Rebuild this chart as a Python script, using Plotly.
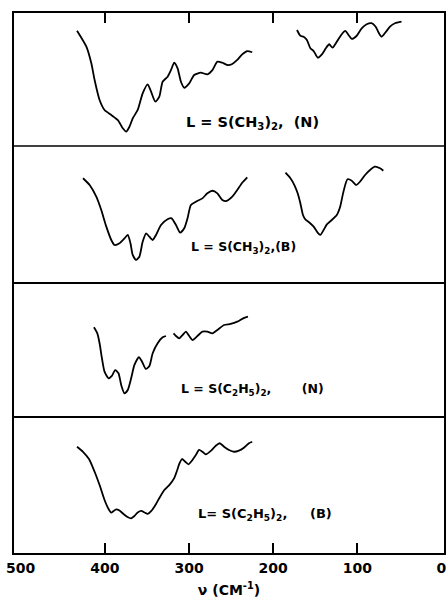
import plotly.graph_objects as go
from plotly.subplots import make_subplots

# Far-infrared spectra, wavenumber (cm^-1) vs. relative transmittance (% of panel height)
# Panel 1: L = S(CH3)2, (N)
p1a_nu = [433.1, 422.0, 416.1, 412.2, 406.3, 400.4, 392.4, 384.6, 378.7, 374.7, 370.8, 366.9,
          361.0, 355.1, 349.1, 345.1, 340.0, 335.3, 331.4, 325.5, 321.5, 317.6, 313.6, 309.6,
          305.7, 299.8, 293.9, 286.0, 278.2, 272.2, 266.3, 260.4, 254.5, 248.6, 242.7, 236.8,
          230.8, 224.9]
p1a_t = [86.7, 74.7, 62.2, 49.6, 34.6, 27.1, 23.3, 19.5, 13.3, 10.8, 14.5, 20.8,
         27.1, 39.6, 46.4, 40.8, 33.3, 37.1, 48.3, 52.1, 57.1, 62.6, 58.4, 48.3,
         43.8, 47.1, 53.4, 55.1, 53.9, 57.1, 63.4, 62.6, 60.9, 61.7, 64.7, 68.9,
         71.4, 70.5]
p1b_nu = [171.7, 167.7, 163.8, 159.9, 155.8, 151.9, 146.9, 142.1, 137.4, 133.4, 129.5, 124.4,
          119.2, 114.4, 110.5, 106.6, 100.7, 94.8, 88.9, 83.0, 78.2, 74.2, 71.1, 66.4,
          61.2, 55.3, 47.5]
p1b_t = [87.2, 82.9, 82.2, 79.7, 73.5, 71.4, 66.4, 68.9, 73.5, 76.5, 73.9, 78.4,
         83.5, 86.5, 83.5, 80.5, 82.9, 88.5, 91.5, 92.3, 89.7, 84.7, 82.2, 85.5,
         89.7, 92.3, 93.5]

# Panel 2: L = S(CH3)2, (B)
p2a_nu = [426.0, 418.1, 410.2, 404.3, 398.3, 392.4, 388.5, 382.6, 376.7, 372.8, 369.6, 366.9,
          362.9, 359.0, 355.1, 351.0, 347.1, 343.2, 339.2, 333.3, 325.5, 320.7, 315.5, 310.5,
          305.7, 301.8, 297.8, 291.9, 284.1, 278.2, 272.2, 266.3, 260.4, 255.2, 248.6, 242.7,
          236.8, 230.8]
p2a_t = [76.3, 71.3, 62.7, 52.9, 40.7, 30.9, 27.2, 28.5, 32.1, 34.6, 28.5, 19.9,
         16.2, 18.6, 29.6, 35.8, 33.3, 30.9, 34.6, 41.9, 46.1, 46.8, 41.9, 36.3,
         39.5, 46.8, 56.6, 59.0, 61.5, 65.2, 67.1, 65.2, 60.3, 59.6, 62.7, 67.6,
         73.0, 77.0]
p2b_nu = [185.4, 179.5, 174.8, 170.9, 167.7, 164.6, 161.8, 156.7, 151.9, 147.2, 144.0, 140.1,
          136.2, 130.3, 124.4, 120.4, 116.5, 111.7, 106.6, 101.4, 96.7, 90.8, 84.9, 79.0,
          73.0, 69.1]
p2b_t = [80.4, 76.3, 71.3, 65.2, 57.9, 49.3, 46.1, 43.6, 40.7, 36.3, 34.6, 38.2,
         42.4, 45.6, 49.3, 55.4, 66.4, 75.5, 74.5, 71.3, 73.8, 78.7, 82.4, 84.8,
         83.6, 81.8]

# Panel 3: L = S(C2H5)2, (N)
p3a_nu = [413.0, 409.0, 406.3, 403.5, 400.4, 395.6, 391.7, 387.7, 383.8, 380.6, 376.7, 372.8,
          368.8, 364.9, 359.5, 356.0, 351.3, 347.1, 343.2, 337.3, 331.4, 327.4]
p3a_t = [66.2, 61.7, 54.3, 43.1, 33.1, 28.1, 29.9, 34.3, 31.9, 23.1, 16.9, 19.4,
         28.1, 38.1, 44.0, 40.7, 35.1, 37.3, 46.8, 54.3, 58.7, 59.7]
p3b_nu = [318.4, 315.5, 311.6, 307.7, 303.7, 299.8, 295.9, 290.0, 284.1, 278.2, 272.2, 266.3,
          258.4, 250.5, 242.7, 235.6, 230.0]
p3b_t = [61.7, 59.7, 58.0, 60.4, 62.9, 59.7, 56.7, 59.7, 62.9, 62.9, 61.7, 64.2,
         67.9, 68.7, 70.4, 72.9, 74.1]

# Panel 4: L = S(C2H5)2, (B)
p4_nu = [433.1, 426.0, 418.9, 412.2, 406.3, 400.4, 395.6, 392.4, 389.7, 386.5, 382.6, 377.9,
         373.1, 368.8, 364.9, 361.0, 356.6, 353.0, 349.1, 344.8, 339.2, 335.3, 329.4, 323.5,
         317.6, 314.0, 311.6, 308.4, 304.5, 300.6, 295.9, 291.9, 288.0, 284.1, 280.1, 274.1,
         268.2, 263.5, 258.4, 252.5, 246.6, 240.7, 234.8, 228.8, 224.9]
p4_t = [77.6, 73.9, 68.6, 59.3, 49.6, 38.7, 32.1, 29.4, 30.7, 31.9, 31.0, 28.5,
        26.3, 25.3, 27.0, 29.6, 30.7, 29.6, 28.5, 30.7, 35.8, 40.1, 46.0, 49.6,
        54.7, 60.6, 65.0, 68.6, 66.6, 64.7, 67.9, 71.5, 75.2, 73.9, 72.0, 74.5,
        78.3, 80.1, 77.6, 75.2, 73.9, 74.7, 76.9, 80.1, 81.2]

NB = "\u00a0"
labels = [
    "L = S(CH<sub>3</sub>)<sub>2</sub>," + NB * 2 + "(N)",
    "L = S(CH<sub>3</sub>)<sub>2</sub>,(B)",
    "L = S(C<sub>2</sub>H<sub>5</sub>)<sub>2</sub>," + NB * 7 + "(N)",
    "L= S(C<sub>2</sub>H<sub>5</sub>)<sub>2</sub>," + NB * 5 + "(B)",
]
tick_vals = [500, 400, 300, 200, 100, 0]
tick_text = ["500", "400", "300", "200", "100", "0"]
inner_ticks = [400, 300, 200, 100]

x_range = [508, -3]
FONT = "DejaVu Sans"

fig = make_subplots(rows=4, cols=1, vertical_spacing=0,
                    row_heights=[133, 136, 134, 137])

line = dict(color="black", width=1.8, shape="spline", smoothing=0.6)
series = [(1, p1a_nu, p1a_t), (1, p1b_nu, p1b_t),
          (2, p2a_nu, p2a_t), (2, p2b_nu, p2b_t),
          (3, p3a_nu, p3a_t), (3, p3b_nu, p3b_t),
          (4, p4_nu, p4_t)]
for row, nu, t in series:
    fig.add_trace(go.Scatter(x=nu, y=t, mode="lines", line=line,
                             showlegend=False, hoverinfo="skip"), row=row, col=1)

# empty trace holding the labelled overlay axis
fig.add_trace(go.Scatter(x=[], y=[], xaxis="x5", yaxis="y4", showlegend=False))

common = dict(showgrid=False, zeroline=False, linecolor="black", linewidth=1.5)
for r in range(1, 5):
    # left/right frame edges come from the y axes
    fig.update_yaxes(range=[0, 100], showticklabels=False, ticks="",
                     showline=True, mirror=True, row=r, col=1, **common)
    # each panel draws only its bottom edge, so shared dividers appear once
    fig.update_xaxes(range=x_range, showticklabels=False, ticks="",
                     showline=True, mirror=False, row=r, col=1, **common)

# top panel: ticks and edge on top
fig.update_xaxes(side="top", ticks="inside", tickvals=inner_ticks, ticklen=10,
                 tickwidth=1.5, tickcolor="black", row=1, col=1)
fig.update_xaxes(ticks="inside", tickvals=inner_ticks, ticklen=10,
                 tickwidth=1.5, tickcolor="black", row=4, col=1)

# divider under the top panel
fig.add_shape(type="line", xref="paper", yref="y domain", x0=0, x1=1, y0=0, y1=0,
              line=dict(color="black", width=1.5))

fig.update_layout(
    xaxis5=dict(overlaying="x4", anchor="y4", side="bottom", range=x_range,
                tickvals=tick_vals, ticktext=tick_text, ticks="",
                showline=False, showgrid=False, zeroline=False,
                tickfont=dict(family=FONT, size=14, color="black", weight="bold"),
                ticklabelstandoff=5,
                title=dict(text="\u03bd (CM<sup>-1</sup>)", standoff=10,
                           font=dict(family=FONT, size=14, color="black", weight="bold"))),
)

label_pos = [(0.396, 0.796, 14.5), (0.406, 0.565, 12.5), (0.384, 0.303, 12.5), (0.424, 0.071, 13)]
for text, (xp, yp, fs) in zip(labels, label_pos):
    fig.add_annotation(text=text, xref="paper", yref="paper", x=xp, y=yp,
                       xanchor="left", yanchor="middle", showarrow=False,
                       font=dict(family=FONT, size=fs, color="black", weight="bold"))

fig.update_layout(width=447, height=598, margin=dict(l=14, r=1, t=13, b=45),
                  paper_bgcolor="white", plot_bgcolor="white")

fig.write_html("out.html")
